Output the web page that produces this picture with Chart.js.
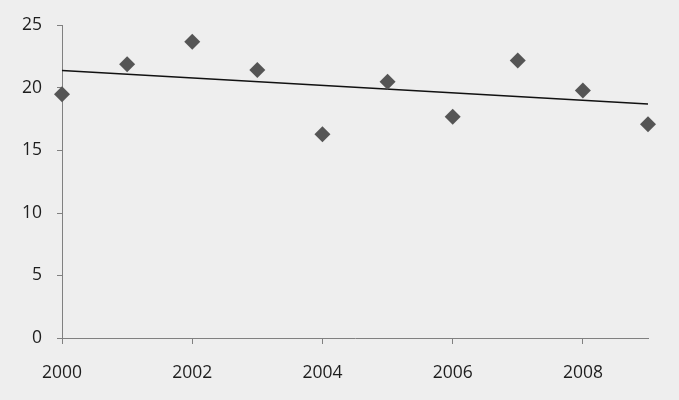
<!DOCTYPE html>
<html>
<head>
<meta charset="utf-8">
<script src="https://cdn.jsdelivr.net/npm/chart.js@4"></script>
<style>
  html, body { margin: 0; padding: 0; background: #eeeeee; }
  #wrap { width: 679px; height: 400px; }
</style>
</head>
<body>
<div id="wrap"><canvas id="c" width="679" height="400"></canvas></div>
<script>
const years = [2000, 2001, 2002, 2003, 2004, 2005, 2006, 2007, 2008, 2009];
const values = [19.5, 21.9, 23.7, 21.45, 16.3, 20.5, 17.7, 22.2, 19.8, 17.1];
const trendYears = [2000, 2009];
const trendValues = [21.4, 18.72];
const yTicks = [0, 5, 10, 15, 20, 25];
const xTicks = [2000, 2002, 2004, 2006, 2008];

const axisColor = '#808080';
const textColor = '#1e1e1e';
const font = { family: '"Open Sans", sans-serif', size: 17.5 };

new Chart(document.getElementById('c'), {
  type: 'scatter',
  data: {
    datasets: [
      {
        label: 'Values',
        data: years.map((y, i) => ({ x: y, y: values[i] })),
        pointStyle: 'rectRot',
        pointRadius: 8,
        pointHoverRadius: 8,
        backgroundColor: '#555555',
        borderColor: '#555555',
        borderWidth: 0,
        showLine: false,
        clip: false,
        order: 1
      },
      {
        label: 'Trend',
        type: 'line',
        data: trendYears.map((y, i) => ({ x: y, y: trendValues[i] })),
        borderColor: '#111111',
        borderWidth: 1.6,
        pointRadius: 0,
        fill: false,
        clip: false,
        order: 2
      }
    ]
  },
  options: {
    responsive: false,
    animation: false,
    events: [],
    layout: { padding: { top: 21, right: 31, left: 0, bottom: 0 } },
    plugins: { legend: { display: false }, tooltip: { enabled: false } },
    scales: {
      x: {
        type: 'linear',
        min: 2000,
        max: 2009,
        afterBuildTicks: (axis) => { axis.ticks = xTicks.map(v => ({ value: v })); },
        afterFit: (axis) => { axis.height = 62; },
        border: { display: true, color: axisColor, width: 1 },
        grid: { drawOnChartArea: false, drawTicks: true, tickLength: 6, color: axisColor },
        ticks: { color: textColor, font: font, padding: 19, maxRotation: 0, callback: v => String(v) }
      },
      y: {
        min: 0,
        max: 25,
        afterBuildTicks: (axis) => { axis.ticks = yTicks.map(v => ({ value: v })); },
        afterFit: (axis) => { axis.width = 62; },
        border: { display: true, color: axisColor, width: 1 },
        grid: { drawOnChartArea: false, drawTicks: true, tickLength: 5, color: axisColor },
        ticks: { color: textColor, font: font, padding: 15 }
      }
    }
  },
  plugins: [{
    id: 'bg',
    beforeDraw(chart) {
      const ctx = chart.ctx;
      ctx.save();
      ctx.fillStyle = '#eeeeee';
      ctx.fillRect(0, 0, chart.width, chart.height);
      ctx.restore();
    }
  }]
});
</script>
</body>
</html>
